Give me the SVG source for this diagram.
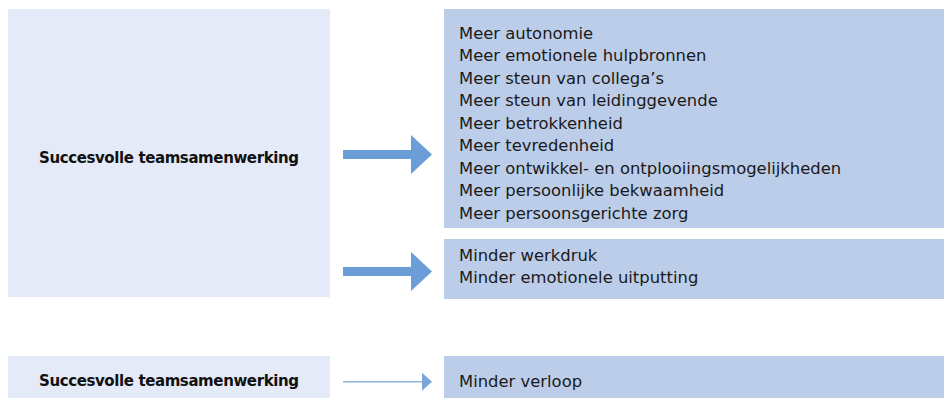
<svg xmlns="http://www.w3.org/2000/svg" width="944" height="399" viewBox="0 0 944 399">
<style>
.src{fill:#e4eaf7}
.dst{fill:#bccde9}
.lbl{font-family:"DejaVu Sans",Verdana,sans-serif;font-size:16.4px;fill:#1a1a1a}
.bold{font-family:"DejaVu Sans",Verdana,sans-serif;font-size:15px;font-weight:bold;fill:#111}
.big{fill:#6b9ed6}
</style>
<defs>
<marker id="thinHead" markerWidth="10" markerHeight="18" refX="0" refY="9" orient="auto" markerUnits="userSpaceOnUse">
<path d="M0,0 L10,9 L0,18 Z" fill="#7aa6da"/>
</marker>
</defs>
<rect width="944" height="399" fill="#fff"/>
<g id="source-top">
<rect class="src" x="8" y="9" width="322" height="288"/>
<text class="bold" x="169" y="163" text-anchor="middle" textLength="260">Succesvolle teamsamenwerking</text>
</g>
<g id="meer">
<rect class="dst" x="444" y="9" width="500" height="219"/>
<text class="lbl" x="459" y="38.7">Meer autonomie</text>
<text class="lbl" x="459" y="61.2">Meer emotionele hulpbronnen</text>
<text class="lbl" x="459" y="83.7">Meer steun van collega’s</text>
<text class="lbl" x="459" y="106.2">Meer steun van leidinggevende</text>
<text class="lbl" x="459" y="128.7">Meer betrokkenheid</text>
<text class="lbl" x="459" y="151.2">Meer tevredenheid</text>
<text class="lbl" x="459" y="173.7">Meer ontwikkel- en ontplooiingsmogelijkheden</text>
<text class="lbl" x="459" y="196.2">Meer persoonlijke bekwaamheid</text>
<text class="lbl" x="459" y="218.7">Meer persoonsgerichte zorg</text>
</g>
<g id="minder">
<rect class="dst" x="444" y="239" width="500" height="60"/>
<text class="lbl" x="459" y="260.7">Minder werkdruk</text>
<text class="lbl" x="459" y="283.2">Minder emotionele uitputting</text>
</g>
<g id="source-bottom">
<rect class="src" x="8" y="356" width="322" height="42"/>
<text class="bold" x="169" y="386" text-anchor="middle" textLength="260">Succesvolle teamsamenwerking</text>
</g>
<g id="verloop">
<rect class="dst" x="444" y="356" width="500" height="42"/>
<text class="lbl" x="459" y="387">Minder verloop</text>
</g>
<g id="connectors">
<path class="big" d="M343,150 H411 V135 L432,154.5 L411,174 V159 H343 Z"/>
<path class="big" d="M343,267 H411 V252 L432,271.5 L411,291 V276 H343 Z"/>
<line x1="343" y1="381.7" x2="422" y2="381.7" stroke="#8fb2de" stroke-width="1.5" marker-end="url(#thinHead)"/>
</g>
</svg>
